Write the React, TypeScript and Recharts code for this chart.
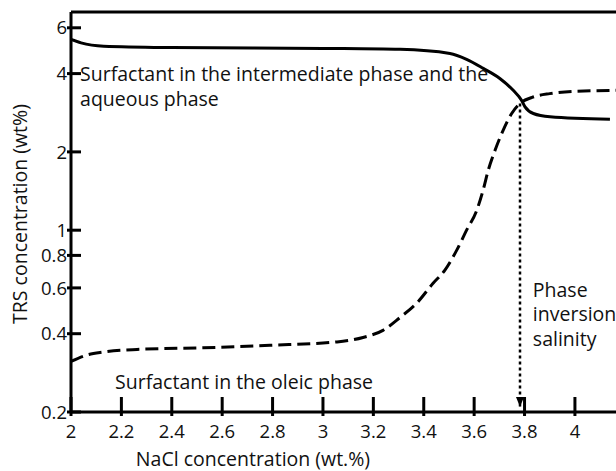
import React from "react";
import { LineChart, Line, XAxis, YAxis, ReferenceLine, ReferenceDot, Label } from "recharts";

// NaCl concentration (wt.%) vs TRS concentration (wt%)
const aqueousX = [2.0, 2.04, 2.13, 2.4, 3.0, 3.306, 3.504, 3.57, 3.636, 3.702, 3.755, 3.788, 3.802, 3.835, 3.901, 4.139];
const aqueousY = [5.41, 5.25, 5.1, 5.04, 5.0, 4.96, 4.78, 4.54, 4.19, 3.83, 3.45, 3.16, 2.98, 2.81, 2.73, 2.67];

const oleicX = [2.0, 2.062, 2.127, 2.262, 2.524, 2.79, 3.056, 3.159, 3.238, 3.306, 3.372, 3.437, 3.484, 3.531, 3.57, 3.61, 3.636, 3.656, 3.683, 3.715, 3.749, 3.782, 3.83, 3.9, 3.96, 4.163];
const oleicY = [0.313, 0.331, 0.34, 0.348, 0.353, 0.361, 0.372, 0.387, 0.412, 0.462, 0.524, 0.625, 0.702, 0.838, 1.0, 1.19, 1.43, 1.7, 2.03, 2.42, 2.81, 3.07, 3.24, 3.35, 3.4, 3.45];

// phase inversion salinity arrow
const inversionX = [3.782, 3.782];
const inversionY = [3.07, 0.209];

const xTicks = [2, 2.2, 2.4, 2.6, 2.8, 3, 3.2, 3.4, 3.6, 3.8, 4];
const yTicks = [0.2, 0.4, 0.6, 0.8, 1, 2, 4, 6];

const X_MAX = 4.163;
const Y_MIN = 0.2;
const Y_MAX = 6.9;

const FONT = "'Open Sans', 'DejaVu Sans', sans-serif";
const TICK_SIZE = 18.5;
const NOTE_SIZE = 19.5;
const TITLE_SIZE = 19.5;

const zip = (xs: number[], ys: number[]) => xs.map((x, i) => ({ x, y: ys[i] }));
const aqueousData = zip(aqueousX, aqueousY);
const oleicData = zip(oleicX, oleicY);
const inversionData = zip(inversionX, inversionY);

const XTick = (props: any) => {
  const { x, y, payload } = props;
  return (
    <g>
      <line x1={x} x2={x} y1={y - 15} y2={y + 4} stroke="#000" strokeWidth={3} />
      <text x={x} y={y + 26} textAnchor="middle" fontSize={TICK_SIZE} fontFamily={FONT} fill="#111">
        {payload.value}
      </text>
    </g>
  );
};

const YTick = (props: any) => {
  const { x, y, payload } = props;
  return (
    <g>
      <line x1={x - 4} x2={x + 10} y1={y} y2={y} stroke="#000" strokeWidth={3} />
      <text x={x - 4} y={y} dy="0.36em" textAnchor="end" fontSize={TICK_SIZE} fontFamily={FONT} fill="#111">
        {payload.value}
      </text>
    </g>
  );
};

const noteLabel = (lines: string[], lineHeight: number) => (props: any) => {
  const { viewBox } = props;
  return (
    <text x={viewBox.x} y={viewBox.y} fontSize={NOTE_SIZE} fontFamily={FONT} fill="#111">
      {lines.map((l, i) => (
        <tspan key={i} x={viewBox.x} dy={i === 0 ? "0.36em" : lineHeight}>
          {l}
        </tspan>
      ))}
    </text>
  );
};

const XTitle = () => (
  <text x={253} y={466} textAnchor="middle" fontSize={TITLE_SIZE} fontFamily={FONT} fill="#111">
    NaCl concentration (wt.%)
  </text>
);

const YTitle = () => (
  <text
    x={0}
    y={0}
    transform="translate(27,214) rotate(-90)"
    textAnchor="middle"
    fontSize={TITLE_SIZE}
    fontFamily={FONT}
    fill="#111"
  >
    TRS concentration (wt%)
  </text>
);

const ArrowDot = (props: any) => {
  const { cx, cy, index } = props;
  if (index !== 1) return <g key={index} />;
  return <path key={index} d={`M${cx - 4},${cy - 10} L${cx + 4},${cy - 10} L${cx},${cy} Z`} fill="#000" />;
};

export default function App() {
  return (
    <div style={{ position: "absolute", left: 0, top: 0, width: 616, height: 471, background: "#fff" }}>
      <LineChart width={616} height={471} margin={{ top: 12, right: 0, bottom: 0, left: 0 }}>
        <XAxis
          type="number"
          dataKey="x"
          domain={[2, X_MAX]}
          ticks={xTicks}
          allowDataOverflow
          height={59}
          tickSize={0}
          tickMargin={0}
          tickLine={false}
          tick={<XTick />}
          axisLine={{ stroke: "#000", strokeWidth: 3 }}
          interval={0}
        >
          <Label content={<XTitle />} />
        </XAxis>
        <YAxis
          type="number"
          dataKey="y"
          scale="log"
          domain={[Y_MIN, Y_MAX]}
          ticks={yTicks}
          allowDataOverflow
          width={71}
          tickSize={0}
          tickMargin={0}
          tickLine={false}
          tick={<YTick />}
          axisLine={{ stroke: "#000", strokeWidth: 3 }}
          interval={0}
        >
          <Label content={<YTitle />} />
        </YAxis>
        <ReferenceLine y={Y_MAX} stroke="#000" strokeWidth={3} ifOverflow="extendDomain" />
        <Line
          data={aqueousData}
          dataKey="y"
          type="monotone"
          stroke="#000"
          strokeWidth={3}
          dot={false}
          isAnimationActive={false}
        />
        <Line
          data={oleicData}
          dataKey="y"
          type="monotone"
          stroke="#000"
          strokeWidth={3}
          strokeDasharray="13 6"
          dot={false}
          isAnimationActive={false}
        />
        <Line
          data={inversionData}
          dataKey="y"
          type="linear"
          stroke="#000"
          strokeWidth={2.5}
          strokeDasharray="3 3"
          dot={<ArrowDot />}
          isAnimationActive={false}
        />
        <ReferenceDot
          x={2.036}
          y={4.0}
          r={0}
          stroke="none"
          label={noteLabel(["Surfactant in the intermediate phase and the", "aqueous phase"], 25)}
        />
        <ReferenceDot x={2.175} y={0.26} r={0} stroke="none" label={noteLabel(["Surfactant in the oleic phase"], 24)} />
        <ReferenceDot
          x={3.833}
          y={0.59}
          r={0}
          stroke="none"
          label={noteLabel(["Phase", "inversion", "salinity"], 24.5)}
        />
      </LineChart>
    </div>
  );
}
